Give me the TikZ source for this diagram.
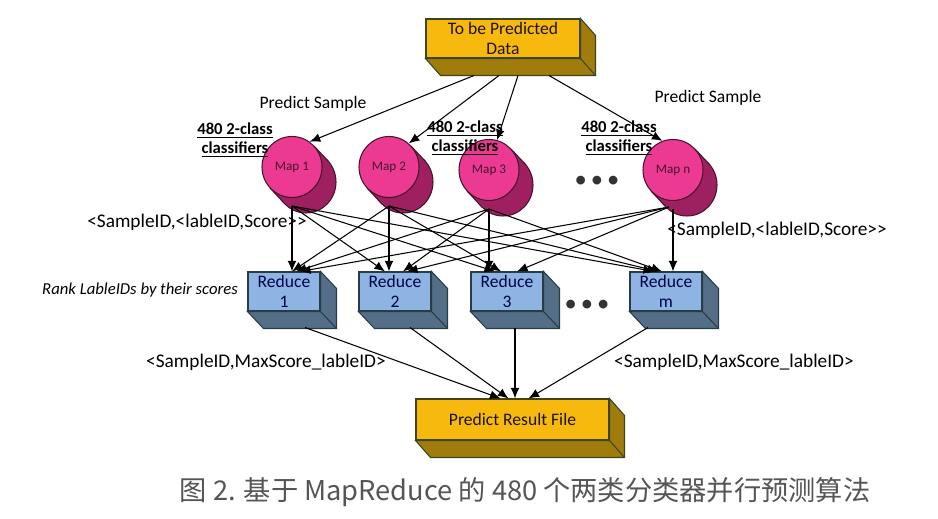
\documentclass[tikz,border=0pt]{standalone}
\usepackage{fontspec}
\setmainfont{Carlito}
\newfontfamily\cjk{Noto Sans CJK SC}
\usetikzlibrary{arrows.meta,shapes.geometric,calc}

\definecolor{boxgold}{RGB}{247,185,14}
\definecolor{boxolive}{RGB}{160,124,12}
\definecolor{boxline}{RGB}{60,70,30}
\definecolor{redblue}{RGB}{141,180,226}
\definecolor{redslate}{RGB}{84,110,136}
\definecolor{redline}{RGB}{40,60,70}
\definecolor{mappink}{RGB}{236,58,146}
\definecolor{mapplum}{RGB}{158,32,96}
\definecolor{mapline}{RGB}{70,20,45}
\definecolor{capgray}{RGB}{85,85,85}

\tikzset{
  goldbox/.style={draw=boxline, fill=boxgold, line width=0.6pt, inner sep=0pt,
    align=center, text=black!85!brown, font=\fontsize{10}{11}\selectfont},
  redbox/.style={draw=redline, fill=redblue, line width=0.6pt, inner sep=0pt,
    minimum width=1.44cm, minimum height=0.78cm, align=center,
    text=blue!30!black, font=\fontsize{10}{11}\selectfont},
  mapnode/.style={ellipse, draw=mapline, fill=mappink, line width=0.6pt, inner sep=0pt,
    minimum width=1.2cm, minimum height=1.22cm, text=mapline, font=\fontsize{7.5}{8}\selectfont},
  lbl/.style={font=\fontsize{10}{11}\selectfont},
  datalbl/.style={font=\fontsize{11}{12}\selectfont},
  clslbl/.style={align=center, font=\fontsize{9.5}{11}\selectfont\bfseries},
  dots/.style={font=\fontsize{14}{14}\selectfont, text=black!80},
  arr/.style={-{Latex[length=6pt,width=5pt]}, line width=0.6pt}
}

\newcommand{\goldside}[1]{%
  \filldraw[draw=boxline, fill=boxolive, line width=0.6pt]
    (#1.north east) -- ++(15,17) -- ($(#1.south east)+(15,17)$) -- ($(#1.south west)+(15,17)$)
    -- (#1.south west) -- (#1.south east) -- cycle;
  \draw[boxline, line width=0.6pt] (#1.south east) -- ++(15,17);
}
\newcommand{\redside}[1]{%
  \filldraw[draw=redline, fill=redslate, line width=0.6pt]
    (#1.north east) -- ++(16,17) -- ($(#1.south east)+(16,17)$) -- ($(#1.south west)+(16,17)$)
    -- (#1.south west) -- (#1.south east) -- cycle;
  \draw[redline, line width=0.6pt] (#1.south east) -- ++(16,17);
}
\newcommand{\mapbody}[2]{%
  \filldraw[draw=mapline, fill=mapplum, line width=0.6pt] (#1+14,#2+15) ellipse [x radius=30, y radius=31];
  \fill[mapplum] (#1+22,#2-21) -- (#1+36,#2-6) -- (#1-8,#2+36) -- (#1-22,#2+21) -- cycle;
  \draw[mapline, line width=0.6pt] (#1+22,#2-21) -- (#1+36,#2-6) (#1-8,#2+36) -- (#1-22,#2+21);
}

\begin{document}
\begin{tikzpicture}[x=0.02cm, y=-0.02cm]
\fill[white] (0,0) rectangle (938,519);
\useasboundingbox (0,0) rectangle (938,519);

\node[goldbox, minimum width=3.08cm, minimum height=0.78cm] (data) at (503,38.5) {To be Predicted\\Data};
\goldside{data}

\mapbody{292}{167}
\node[mapnode] (map1) at (292,167) {Map 1};
\mapbody{389}{167}
\node[mapnode] (map2) at (389,167) {Map 2};
\mapbody{489}{170}
\node[mapnode] (map3) at (489,170) {Map 3};
\mapbody{673}{170}
\node[mapnode] (mapn) at (673,170) {Map n};
\node[dots] (mdots) at (597,182) {\textbullet\,\textbullet\,\textbullet};

\node[lbl] (ps1) at (313,104) {Predict Sample};
\node[lbl] (ps2) at (708,98) {Predict Sample};
\node[clslbl] (cls1) at (235,140) {\underline{480 2-class}\\\underline{classifiers}};
\node[clslbl] (cls2) at (465,138) {\underline{480 2-class}\\\underline{classifiers}};
\node[clslbl] (cls3) at (619,138) {\underline{480 2-class}\\\underline{classifiers}};

\draw[arr] ($(data.south)+(-29,17)$) -- (map1.55);
\draw[arr] ($(data.south)+(-4,17)$) -- (map2.50);
\draw[arr] ($(data.south)+(15,17)$) -- (map3.75);
\draw[arr] ($(data.south)+(46,17)$) -- (mapn.110);

\node[redbox] (red1) at (284,291.5) {Reduce\\1};
\redside{red1}
\node[redbox] (red2) at (395,291.5) {Reduce\\2};
\redside{red2}
\node[redbox] (red3) at (507,291.5) {Reduce\\3};
\redside{red3}
\node[redbox] (redm) at (666,291.5) {Reduce\\m};
\redside{redm}
\node[dots] (rdots) at (587,306) {\textbullet\,\textbullet\,\textbullet};

\node[datalbl] (sc1) at (197,222) {<SampleID,<lableID,Score>{}>};
\node[datalbl] (sc2) at (777,230) {<SampleID,<lableID,Score>{}>};
\node[lbl, font=\fontsize{9.5}{11}\selectfont\itshape] (rank) at (140,290) {Rank LableIDs by their scores};

\draw[arr] ($(map1.south)+(0,8)$) -- (map1.south |- red1.north);
\draw[arr] ($(map1.south)+(0,8)$) -- ($(red2.north)+(-10,0)$);
\draw[arr] ($(map1.south)+(0,8)$) -- ($(red3.north)+(-12,0)$);
\draw[arr] ($(map1.south)+(0,8)$) -- ($(redm.north)+(-12,0)$);
\draw[arr] ($(map2.south)+(0,8)$) -- ($(red1.north)+(8,0)$);
\draw[arr] ($(map2.south)+(0,8)$) -- (map2.south |- red2.north);
\draw[arr] ($(map2.south)+(0,8)$) -- ($(red3.north)+(-6,0)$);
\draw[arr] ($(map2.south)+(0,8)$) -- ($(redm.north)+(-8,0)$);
\draw[arr] ($(map3.south)+(0,8)$) -- ($(red1.north)+(12,0)$);
\draw[arr] ($(map3.south)+(0,8)$) -- ($(red2.north)+(8,0)$);
\draw[arr] ($(map3.south)+(0,8)$) -- (map3.south |- red3.north);
\draw[arr] ($(map3.south)+(0,8)$) -- ($(redm.north)+(-4,0)$);
\draw[arr] ($(mapn.south)+(-4,6)$) -- ($(red1.north)+(16,0)$);
\draw[arr] ($(mapn.south)+(-4,6)$) -- ($(red2.north)+(12,0)$);
\draw[arr] ($(mapn.south)+(-4,6)$) -- ($(red3.north)+(10,0)$);
\draw[arr] ($(mapn.south)+(0,8)$) -- (mapn.south |- redm.north);

\node[goldbox, minimum width=3.86cm, minimum height=0.82cm] (result) at (512.5,419.5) {Predict Result File};
\goldside{result}

\coordinate (r1out) at ($(red1.south)+(21,16)$);
\coordinate (r2out) at ($(red2.south)+(15,16)$);
\coordinate (r3out) at ($(red3.south)+(8,16)$);
\coordinate (rmout) at ($(redm.south)+(-18,16)$);
\draw[arr] (r1out) -- ($(result.north)+(-12,0)$);
\draw[arr] (r2out) -- ($(result.north)+(-4,0)$);
\draw[arr] (r3out) -- (r3out |- result.north);
\draw[arr] (rmout) -- ($(result.north)+(16,0)$);

\node[datalbl] (ms1) at (266,362) {<SampleID,MaxScore\_lableID>};
\node[datalbl] (ms2) at (734,362) {<SampleID,MaxScore\_lableID>};

\node[font=\cjk\fontsize{15.5}{17}\selectfont, text=capgray] (caption) at (525,492) {图 2. 基于 MapReduce 的 480 个两类分类器并行预测算法};
\end{tikzpicture}
\end{document}
